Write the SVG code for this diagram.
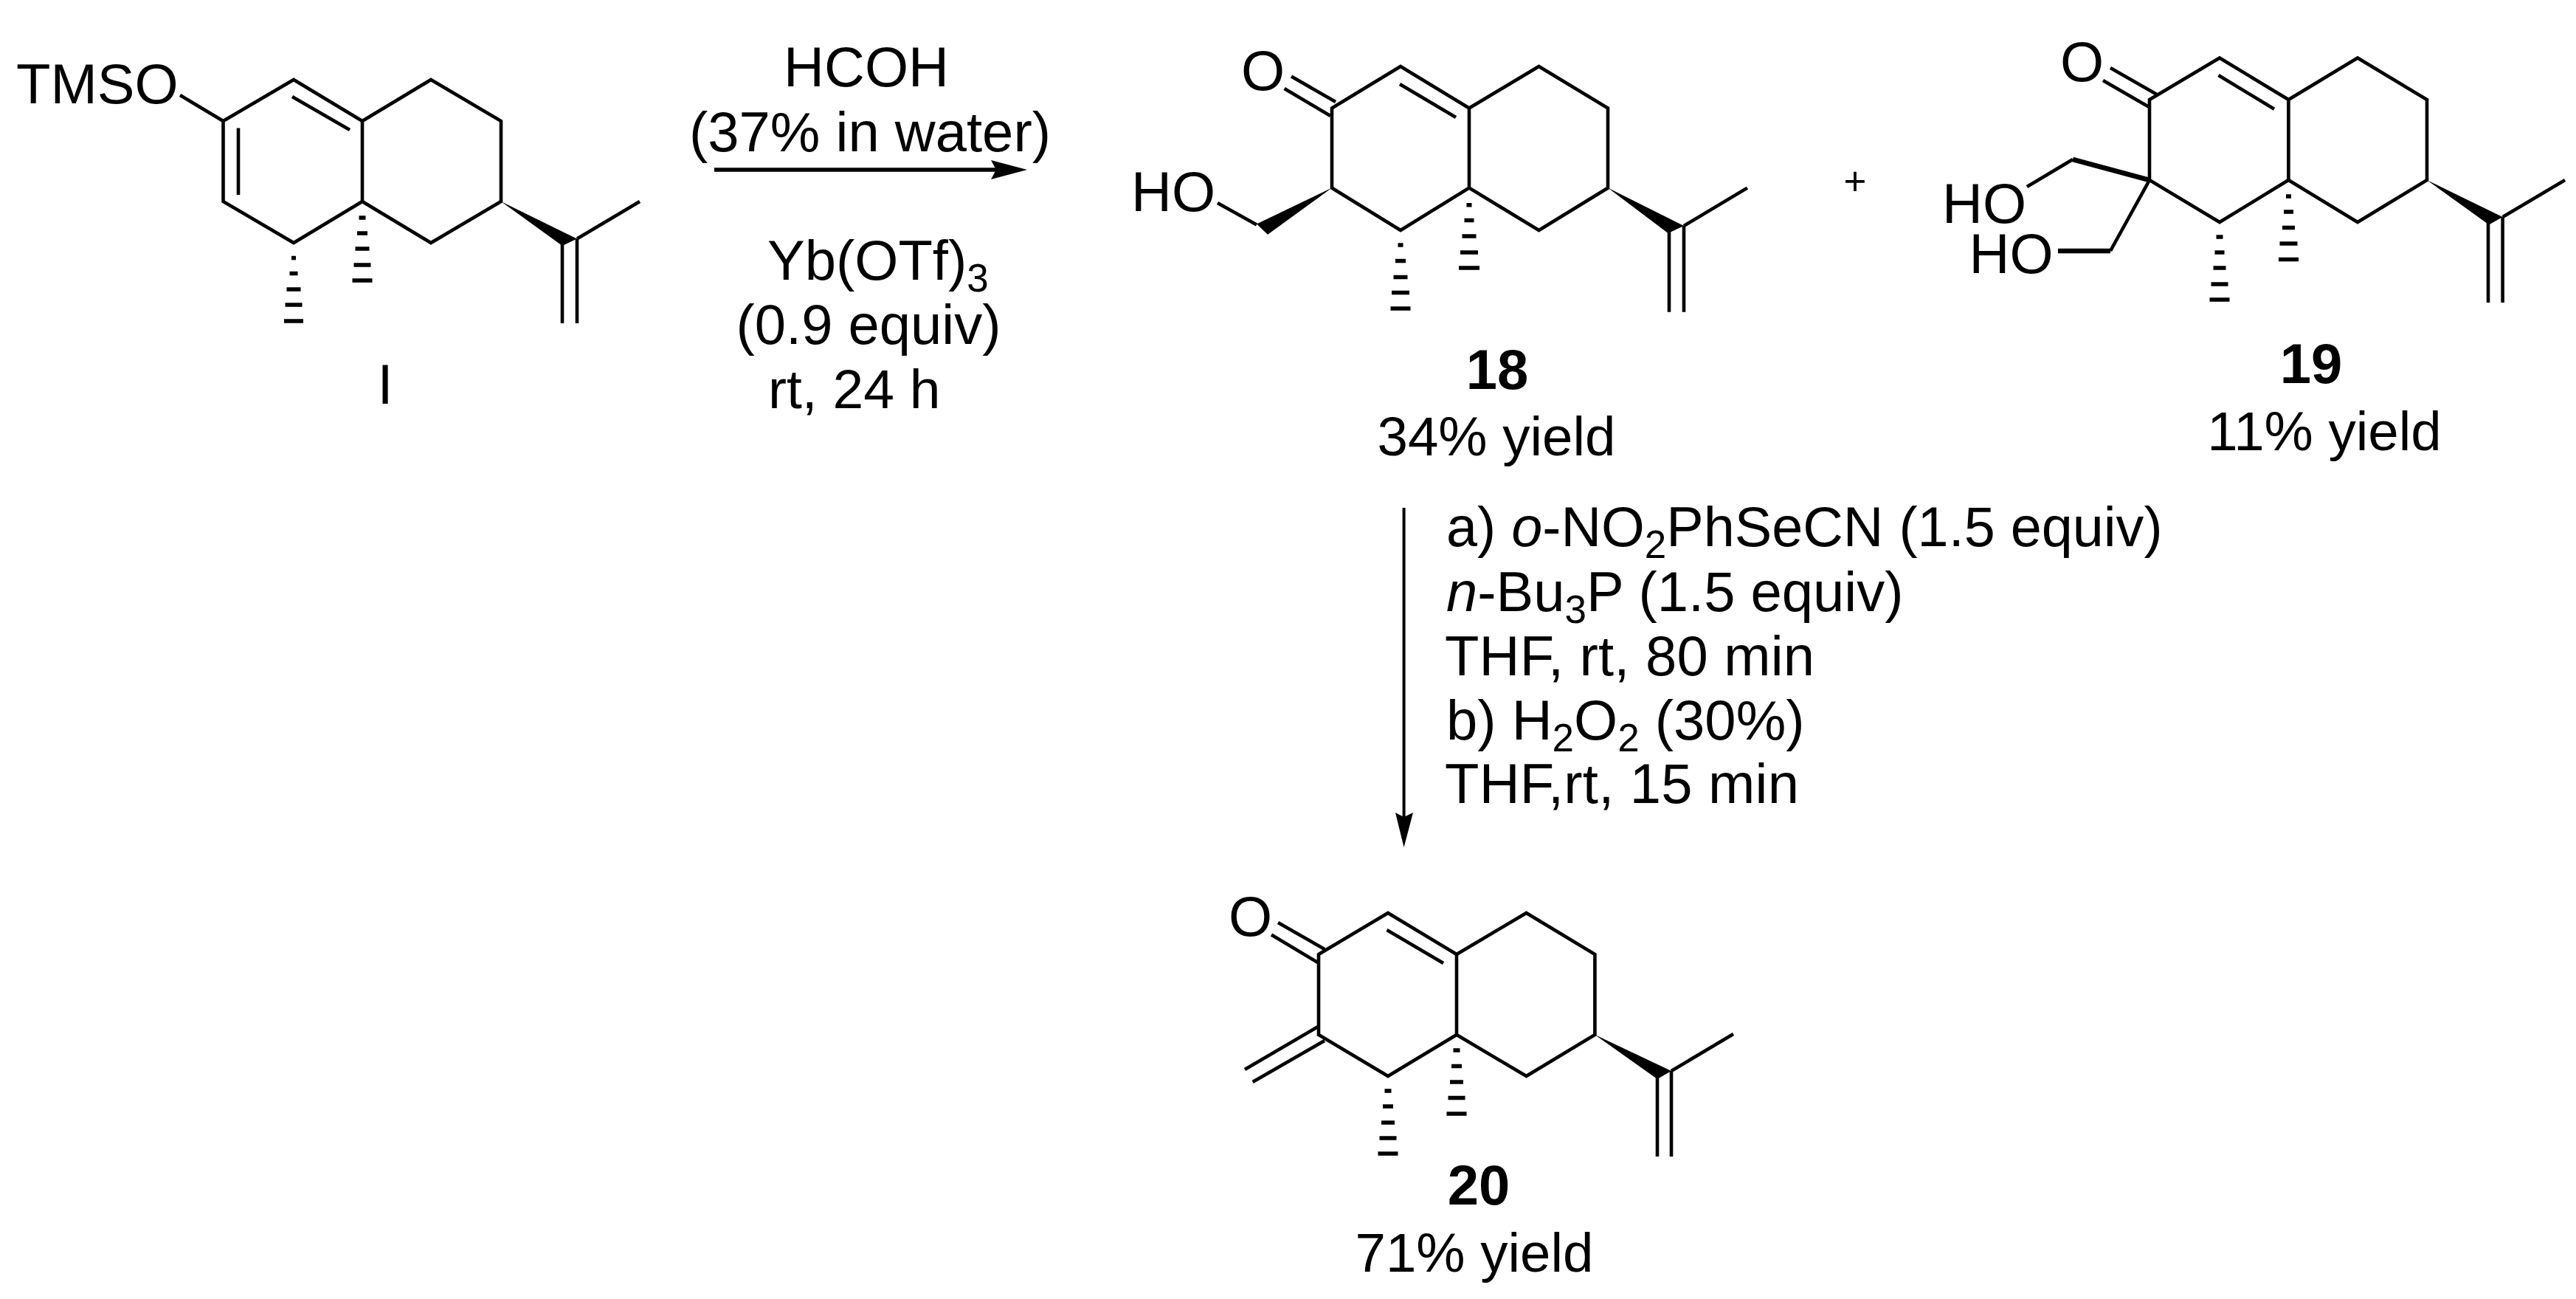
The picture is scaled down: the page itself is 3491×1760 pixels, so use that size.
<svg xmlns="http://www.w3.org/2000/svg" width="3491" height="1760" viewBox="0 0 3491 1760">
<style>
text{font-family:"Liberation Sans",Arial,sans-serif;font-size:76px;fill:#000}
.b{font-weight:bold}
.y{font-size:74.5px}
.bond{fill:none;stroke:#000;stroke-width:4.6;stroke-linejoin:miter;stroke-linecap:butt}
.hash{fill:none;stroke:#000;stroke-width:5.5}
.wedge{fill:#000;stroke:none}
.arrow{fill:none;stroke:#000}
</style>
<defs>
<path id="headR" d="M1392 230 L1343 217 L1350 230 L1343 243 Z"/>
</defs>
<rect width="3491" height="1760" fill="#fff"/>
<g id="connectors">
<path class="arrow" stroke-width="5.5" d="M968 230 H1355"/>
<use href="#headR"/>
<path class="arrow" stroke-width="4" d="M1902.6 688 V1110"/>
<path d="M1902.6 1148 L1891 1101 L1902.6 1107 L1915 1101 Z"/>
</g>
<g id="compound-I">
<path class="bond" d="M302.5 164 L398 108 L491 164 L584 108 L679 164 V273 L584 329 L491 273 L398 329 L302.5 273 Z M244 129 L302.5 164 M491 164 V273 M396 131 L474 176 M323 173.5 V264 M782 323.5 L867 273 M762 325 V438 M782 323.5 V438"/>
<path class="wedge" d="M679 273 L762 333 L782 323.5 Z"/>
<path class="hash" d="M395 349.4 h6 M392.500 370.6 h11 M388.500 392 h19 M386.500 413 h23 M385 435 h26 M486.500 295 h9 M484 316 h14 M481.500 337 h19 M479.500 359 h23 M477.500 380 h27"/>
<text x="22" y="140">TMSO</text>
<text x="522" y="547" text-anchor="middle">I</text>
</g>
<g id="reagents-1">
<text x="1174" y="117" text-anchor="middle">HCOH</text>
<text x="1179" y="205" text-anchor="middle" textLength="490" lengthAdjust="spacing">(37% in water)</text>
<text x="1040" y="379">Yb(OTf)<tspan font-size="53" dy="16">3</tspan></text>
<text x="1177" y="466" text-anchor="middle">(0.9 equiv)</text>
<text x="1041" y="553" style="font-size:75px">rt, 24 h</text>
</g>
<g id="compound-18">
<path class="bond" d="M1805 146.500 L1898 90 L1991 146.500 L2085.500 90 L2179 146.500 V254.600 L2085.500 312 L1991 254.600 L1898 312 L1805 254.600 Z M1991 146.500 V254.600 M1750 103.500 L1810 138 M1740.600 120 L1803 157 M1897 114 L1973 159 M1650 275 L1703 304.600 M2282 306 L2368 254.600 M2262 308 V422.700 M2282 306 V422.700"/>
<path class="wedge" d="M1805 254.600 L1703 303.500 L1718 317.700 Z M2179 254.600 L2260.600 316 L2282 306 Z"/>
<path class="hash" d="M1894.500 332 h7 M1891 353.500 h14 M1888.500 375.400 h19 M1886 396.500 h24 M1884.500 418 h27 M1987.500 277.700 h7 M1984.500 298.500 h13 M1981.500 320 h19 M1979 342 h24 M1977 363 h28"/>
<text x="1682" y="122">O</text>
<text x="1533" y="286">HO</text>
<text class="b" x="2029" y="526.500" text-anchor="middle">18</text>
<text class="y" x="2028" y="617" text-anchor="middle">34% yield</text>
</g>
<g id="plus">
<text x="2514" y="264" text-anchor="middle" style="font-size:53px">+</text>
</g>
<g id="compound-19">
<path class="bond" d="M2913 135 L3008 78.500 L3101.400 135 L3195 78.500 L3289 135 V244 L3195 301 L3101.400 244 L3008 301 L2913 244 Z M3101.400 135 V244 M2860 92 L2923 128 M2850 109 L2911.500 144.600 M3006.500 102 L3082 147.700 M2747 253 L2809 216 M2913 244 L2860 340 M3391.600 294 L3476 244 M3372 296 V410 M3391.600 294 V410"/>
<path class="bond" style="stroke-width:6.500" d="M2913 244 L2809 216 M2860 340 H2789"/>
<path class="wedge" d="M3289 244 L3373 304.600 L3391.600 294 Z"/>
<path class="hash" d="M3003.500 321 h9 M3001.500 342 h13 M2999.500 363 h17 M2996.500 385 h23 M2994.500 406 h27 M3098 266 h7 M3095 287 h13 M3093 308.500 h17 M3089.500 330 h24 M3088 351.500 h27"/>
<text x="2792" y="110">O</text>
<text x="2632" y="301.500">HO</text>
<text x="2668.500" y="369.600">HO</text>
<text class="b" x="3132" y="519" text-anchor="middle">19</text>
<text class="y" x="3150" y="610" text-anchor="middle">11% yield</text>
</g>
<g id="reagents-2">
<text x="1960" y="740" style="font-size:75.6px">a) <tspan font-style="italic">o</tspan>-NO<tspan font-size="53" dy="16">2</tspan><tspan dy="-16">PhSeCN (1.5 equiv)</tspan></text>
<text x="1960" y="828"><tspan font-style="italic">n</tspan>-Bu<tspan font-size="53" dy="16">3</tspan><tspan dy="-16">P (1.5 equiv)</tspan></text>
<text x="1958" y="915" textLength="501" lengthAdjust="spacing">THF, rt, 80 min</text>
<text x="1960" y="1002">b) H<tspan font-size="53" dy="16">2</tspan><tspan dy="-16">O</tspan><tspan font-size="53" dy="16">2</tspan><tspan dy="-16"> (30%)</tspan></text>
<text x="1958" y="1088" textLength="480" lengthAdjust="spacing">THF,rt, 15 min</text>
</g>
<g id="compound-20">
<path class="bond" d="M1787 1293 L1881 1237 L1974 1293 L2068.500 1237 L2161.400 1293 V1402 L2068.500 1458 L1974 1402 L1881 1458 L1787 1402 Z M1974 1293 V1402 M1732 1250 L1795 1286 M1723 1266.500 L1786.600 1304.500 M1879.500 1260 L1956 1305 M1787 1390.500 L1687 1449 M1795 1410 L1697.600 1466 M2265 1451 L2349 1401 M2246 1453 V1567 M2265 1451 V1567"/>
<path class="wedge" d="M2161.400 1402 L2246 1462 L2265 1451 Z"/>
<path class="hash" d="M1876.500 1478 h9 M1874 1499 h14 M1872 1521 h18 M1869.500 1542 h23 M1867.500 1563 h27 M1969.500 1423 h9 M1967 1444.500 h14 M1965 1466 h18 M1962.500 1487.500 h23 M1960.500 1509 h27"/>
<text x="1665" y="1268">O</text>
<text class="b" x="2004" y="1632" text-anchor="middle">20</text>
<text class="y" x="1998" y="1723" text-anchor="middle">71% yield</text>
</g>
</svg>
